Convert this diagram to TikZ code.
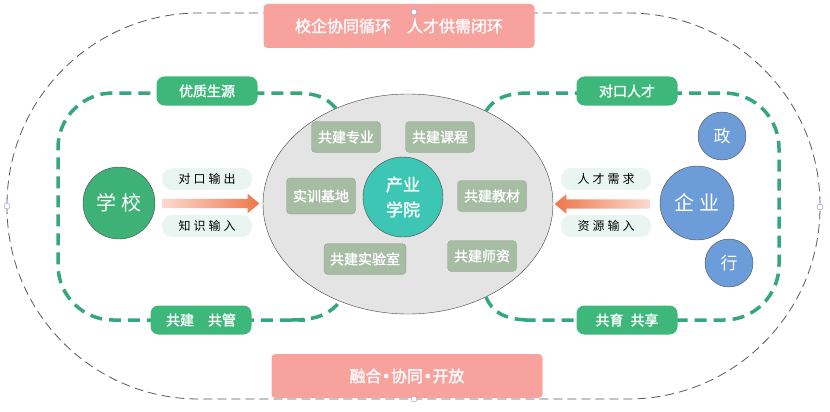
\documentclass[tikz,border=0pt]{standalone}
\usepackage{fontspec}
\setmainfont{Noto Sans CJK SC}
\newfontfamily\spaced[LetterSpace=25]{Noto Sans CJK SC}
\newfontfamily\heavy[FakeBold=1.6]{Noto Sans CJK SC}
\newfontfamily\dotfont{DejaVu Sans}
\newcommand{\sepdot}{{\dotfont •}}
\usetikzlibrary{positioning, shapes.geometric, shapes.arrows}
\definecolor{pinkbox}{RGB}{248,162,158}
\definecolor{loopgreen}{RGB}{52,168,122}
\definecolor{taggreen}{RGB}{62,184,122}
\definecolor{sagebox}{RGB}{166,189,163}
\definecolor{sageline}{RGB}{138,162,135}
\definecolor{tealhub}{RGB}{62,198,180}
\definecolor{bluebub}{RGB}{108,157,216}
\definecolor{schoolgreen}{RGB}{62,178,118}
\definecolor{mint}{RGB}{232,245,240}
\definecolor{hubgray}{RGB}{228,228,228}
\definecolor{arrorange}{RGB}{240,118,74}
\definecolor{arrpale}{RGB}{250,218,208}
\definecolor{handleblue}{RGB}{120,150,200}
\tikzset{
x=1pt, y=-1pt, % one unit is one pixel of the sketch, y runs down
rim/.style={draw=black!65, line width=0.8pt, dash pattern=on 9pt off 5pt, rounded corners=192pt}, % the outer dashed track
looppath/.style={draw=loopgreen, line width=3.5pt, dash pattern=on 12pt off 7pt}, % green loops
banner/.style={fill=pinkbox, rounded corners=4pt, minimum width=271pt, minimum height=44pt, text=white, font=\heavy\fontsize{16}{16}\selectfont}, % pink bars
looptag/.style={fill=taggreen, rounded corners=8pt, minimum width=101pt, minimum height=29pt, text=white, font=\heavy\fontsize{14}{14}\selectfont},
task/.style={fill=sagebox, draw=sageline, rounded corners=4pt, minimum width=69pt, minimum height=31pt, text=white, font=\heavy\fontsize{14}{14}\selectfont},
flow/.style={fill=mint, rounded corners=10pt, minimum width=90pt, minimum height=22pt, font=\spaced\fontsize{12}{12}\selectfont},
bubble/.style={circle, draw=black!70, fill=bluebub, text=white, inner sep=0pt},
flowarrow/.style={single arrow, inner sep=4.5pt, single arrow head extend=5pt, single arrow tip angle=80},
handle/.style={circle, draw=handleblue, fill=white, inner sep=0pt, minimum size=6pt},
}
\begin{document}
\begin{tikzpicture}
\useasboundingbox (0,0) rectangle (830,412);
\draw[rim] (7,13) rectangle (820,399);
\node[ellipse, draw=black!75, fill=hubgray, minimum width=290pt, minimum height=220pt, inner sep=0pt] (hub) at (408,204) {};
% the two green loops
\draw[looppath] (hub.127) .. controls (326,97) and (316,93) .. (292,93) -- (250,93) [rounded corners=55pt] -- (58,93) -- (58,320) -- (250,320) [sharp corners] -- (292,320) .. controls (318,320) and (331,313) .. (hub.235);
\draw[looppath] (hub.50) .. controls (494,99) and (505,93) .. (530,93) -- (580,93) [rounded corners=55pt] -- (779,93) -- (779,320) -- (580,320) [sharp corners] -- (530,320) .. controls (505,320) and (492,312) .. (hub.310);
\node[looptag] (youzhi) at (207,91) {优质生源};
\node[looptag] (duikou) at (627,91) {对口人才};
\node[looptag] (gongguan) at (201,320) {共建\quad 共管};
\node[looptag] (gongxiang) at (627,320) {共育\enspace 共享};
\node[banner] (top) at (399,26) {校企协同循环\quad 人才供需闭环};
\node[banner] (bottom) at (407,376) {融合\sepdot 协同\sepdot 开放};
\node[circle, draw=black!70, fill=tealhub, minimum size=80pt, inner sep=0pt, text=white, align=center, font=\heavy\fontsize{17}{25}\selectfont] (core) at (403,197) {产业\\学院};
\node[task] (zhuanye) at (346,137) {共建专业};
\node[task] (kecheng) at (440,137) {共建课程};
\node[task, minimum height=36pt] (shixun) at (321,196) {实训基地};
\node[task] (jiaocai) at (492,196) {共建教材};
\node[task, minimum width=82pt] (shiyan) at (365,259) {共建实验室};
\node[task] (shizi) at (482,256) {共建师资};
\node[circle, draw=black!70, fill=schoolgreen, minimum size=72pt, inner sep=0pt, text=white, font=\spaced\fontsize{20}{20}\selectfont] (school) at (119,203) {学校};
\node[bubble, minimum size=74pt, font=\spaced\fontsize{20}{20}\selectfont] (firm) at (697,203) {企业};
\node[bubble, minimum size=48pt, font=\fontsize{17}{17}\selectfont] (gov) at (722,136) {政};
\node[bubble, minimum size=48pt, font=\fontsize{17}{17}\selectfont] (trade) at (729,263) {行};
\node[flow] (out) at (207,179) {对口输出};
\node[flow] (in) at (207,226) {知识输入};
\node[flow] (need) at (606,179) {人才需求};
\node[flow] (res) at (606,226) {资源输入};
\node[flowarrow, minimum height=97pt, left color=arrpale, right color=arrorange] (arrL) at (208,203.5) {};
\node[flowarrow, minimum height=95pt, shape border rotate=180, left color=arrorange, right color=arrpale] (arrR) at (605,204) {};
\node[handle] (h1) at (7,206) {};
\node[handle] (h2) at (820,207) {};
\node[handle] (h3) at (414,12) {};
\node[handle] (h4) at (414,399) {};
\end{tikzpicture}
\end{document}
